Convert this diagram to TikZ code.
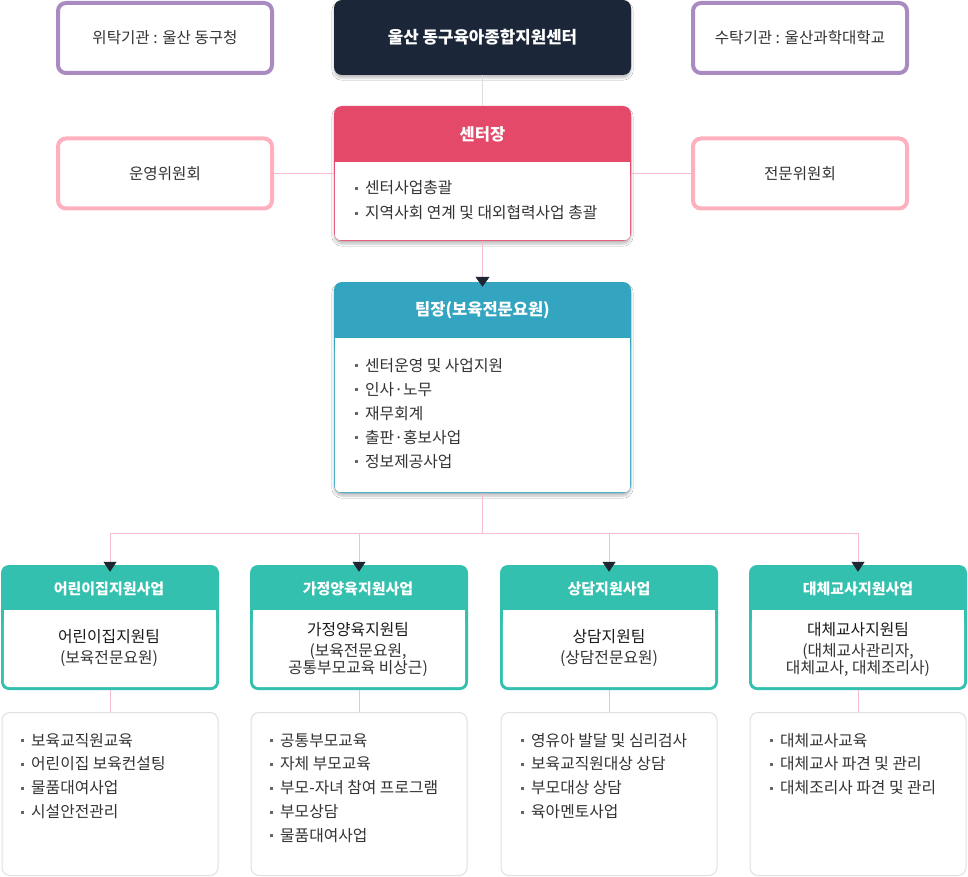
\documentclass[tikz,border=0pt]{standalone}
\usepackage{fontspec}
\setmainfont{Noto Sans CJK KR}
\usetikzlibrary{shadows.blur,arrows.meta}
\definecolor{purp}{HTML}{A98BC1}
\definecolor{pinkb}{HTML}{FFB0BE}
\definecolor{navy}{HTML}{1B2739}
\definecolor{redh}{HTML}{E5496A}
\definecolor{blueh}{HTML}{33A5C0}
\definecolor{tealh}{HTML}{33C0AE}
\definecolor{lnk}{HTML}{F8BCD0}
\definecolor{grayl}{HTML}{DDDDDD}
\definecolor{txt}{HTML}{333333}
\definecolor{grayb}{HTML}{E0E0E0}
\definecolor{arr}{HTML}{1F2633}
\definecolor{bulc}{HTML}{666666}
\newcommand\bul{\raisebox{3.8pt}{\textcolor{bulc}{\rule{3pt}{3pt}}}\hspace{7pt}}
\newcommand\bodyfill[3]{%
  \fill[white] ([shift={(#2pt,-#3pt)}]#1.north west) rectangle ([shift={(-#2pt,12pt)}]#1.south east);
  \fill[white,rounded corners=6pt] ([shift={(#2pt,-#3pt-6pt)}]#1.north west) rectangle ([shift={(-#2pt,#2pt)}]#1.south east);}
\newcommand\blist[5]{%
  \foreach \t [count=\i] in {#5}
    \node[bl, anchor=base west] (#1-\i) at (#2,{#3+#4*(\i-1)}) {\bul\t};}
\tikzset{
  outer/.style={draw, line width=4pt, rounded corners=8pt, fill=white,
    minimum width=214pt, minimum height=70pt, inner sep=0pt,
    font=\fontsize{15.6}{18}\selectfont, text=txt},
  hdrbox/.style={rounded corners=8pt, inner sep=0pt},
  sh/.style={blur shadow={shadow blur steps=6, shadow xshift=0pt, shadow yshift=-3pt, shadow opacity=25}},
  bl/.style={inner sep=0pt, font=\fontsize{15.8}{18}\selectfont, text=txt},
  hd/.style={text=white, inner sep=0pt, font=\fontsize{16.5}{19}\selectfont\bfseries},
  hds/.style={text=white, inner sep=0pt, font=\fontsize{15}{18}\selectfont\bfseries},
  ttl/.style={text=black!90, inner sep=0pt, font=\fontsize{15.8}{18}\selectfont},
  par/.style={text=txt, inner sep=0pt, align=center, font=\fontsize{15.8}{17}\selectfont},
  lnkline/.style={draw=lnk, line width=1pt},
  arrline/.style={draw=lnk, line width=1pt, -{Triangle[width=13pt,length=10pt,color=arr]}},
  lower/.style={draw=grayb, line width=1pt, fill=white, rounded corners=8pt,
    minimum width=216pt, minimum height=163pt, inner sep=0pt},
  teambox/.style={hdrbox, fill=tealh, minimum width=218pt, minimum height=125pt}
}
\begin{document}
\begin{tikzpicture}[x=1pt,y=-1pt]
\useasboundingbox[fill=white] (0,0) rectangle (968,877);

% top row
\node[outer, draw=purp] (gov) at (165,38) {위탁기관 : 울산 동구청};
\node[hdrbox, fill=navy, minimum width=297pt, minimum height=75pt, sh,
      text=white, font=\fontsize{16.8}{19}\selectfont\bfseries] (ctr) at (482.5,37.5) {울산 동구육아종합지원센터};
\node[outer, draw=purp] (uni) at (800,38) {수탁기관 : 울산과학대학교};

% committees
\node[outer, draw=pinkb] (ops) at (165,173.5) {운영위원회};
\node[outer, draw=pinkb] (exp) at (800,173.5) {전문위원회};

% chief
\node[hdrbox, fill=redh, minimum width=297pt, minimum height=135pt, sh] (chief) at (482.5,173.5) {};
\bodyfill{chief}{1}{56}
\node[hd] (chiefT) at (482.5,134) {센터장};
\blist{cl}{355}{194}{25}{센터사업총괄,지역사회 연계 및 대외협력사업 총괄}

% team leader
\node[hdrbox, fill=blueh, minimum width=297pt, minimum height=211pt, sh] (lead) at (482.5,387.5) {};
\bodyfill{lead}{1}{56}
\node[hd] (leadT) at (482.5,310) {팀장(보육전문요원)};
\blist{ll}{355}{371}{24}{센터운영 및 사업지원,인사·노무,재무회계,출판·홍보사업,정보제공사업}

% teams
\node[teambox] (b1) at (110,627.5) {};
\node[teambox] (b2) at (359,627.5) {};
\node[teambox] (b3) at (609,627.5) {};
\node[teambox] (b4) at (858,627.5) {};
\foreach \b in {b1,b2,b3,b4} {\bodyfill{\b}{3}{45}}

\node[hds] (h1) at (109,589) {어린이집지원사업};
\node[hds] (h2) at (358,589) {가정양육지원사업};
\node[hds] (h3) at (609,589) {상담지원사업};
\node[hds] (h4) at (858,589) {대체교사지원사업};

\node[ttl] (t1) at (109,637) {어린이집지원팀};
\node[par] (p1) at (109,659) {(보육전문요원)};
\node[ttl] (t2) at (358,630) {가정양육지원팀};
\node[par] (p2) at (358,660.5) {(보육전문요원,\\공통부모교육 비상근)};
\node[ttl] (t3) at (609,637) {상담지원팀};
\node[par] (p3) at (609,659) {(상담전문요원)};
\node[ttl] (t4) at (858,630) {대체교사지원팀};
\node[par] (p4) at (858,660.5) {(대체교사관리자,\\대체교사, 대체조리사)};

% lower boxes
\node[lower] (l1) at (110,794) {};
\node[lower] (l2) at (359,794) {};
\node[lower] (l3) at (609,794) {};
\node[lower] (l4) at (858,794) {};

\blist{a}{21}{746}{23.8}{보육교직원교육,어린이집 보육컨설팅,물품대여사업,시설안전관리}
\blist{b}{270}{746}{23.8}{공통부모교육,자체 부모교육,부모-자녀 참여 프로그램,부모상담,물품대여사업}
\blist{c}{521}{746}{23.8}{영유아 발달 및 심리검사,보육교직원대상 상담,부모대상 상담,육아멘토사업}
\blist{d}{770}{746}{23.8}{대체교사교육,대체교사 파견 및 관리,대체조리사 파견 및 관리}

% connectors
\draw[draw=grayl, line width=1pt] (ctr.south) -- (chief.north);
\draw[lnkline] (ops.east) -- (chief.west);
\draw[lnkline] (chief.east) -- (exp.west);
\draw[arrline, -{Triangle[width=14pt,length=10pt,color=arr]}, shorten >=-5pt] (chief.south) -- (lead.north);
\coordinate (split) at (482.5,533.5);
\draw[lnkline] (lead.south) -- (split);
\foreach \b in {b1,b2,b3,b4}
  \draw[arrline, shorten >=-7pt] (split) -| (\b.north);
\foreach \b/\l in {b1/l1,b2/l2,b3/l3,b4/l4}
  \draw[lnkline] (\b.south) -- (\l.north);
\end{tikzpicture}
\end{document}
